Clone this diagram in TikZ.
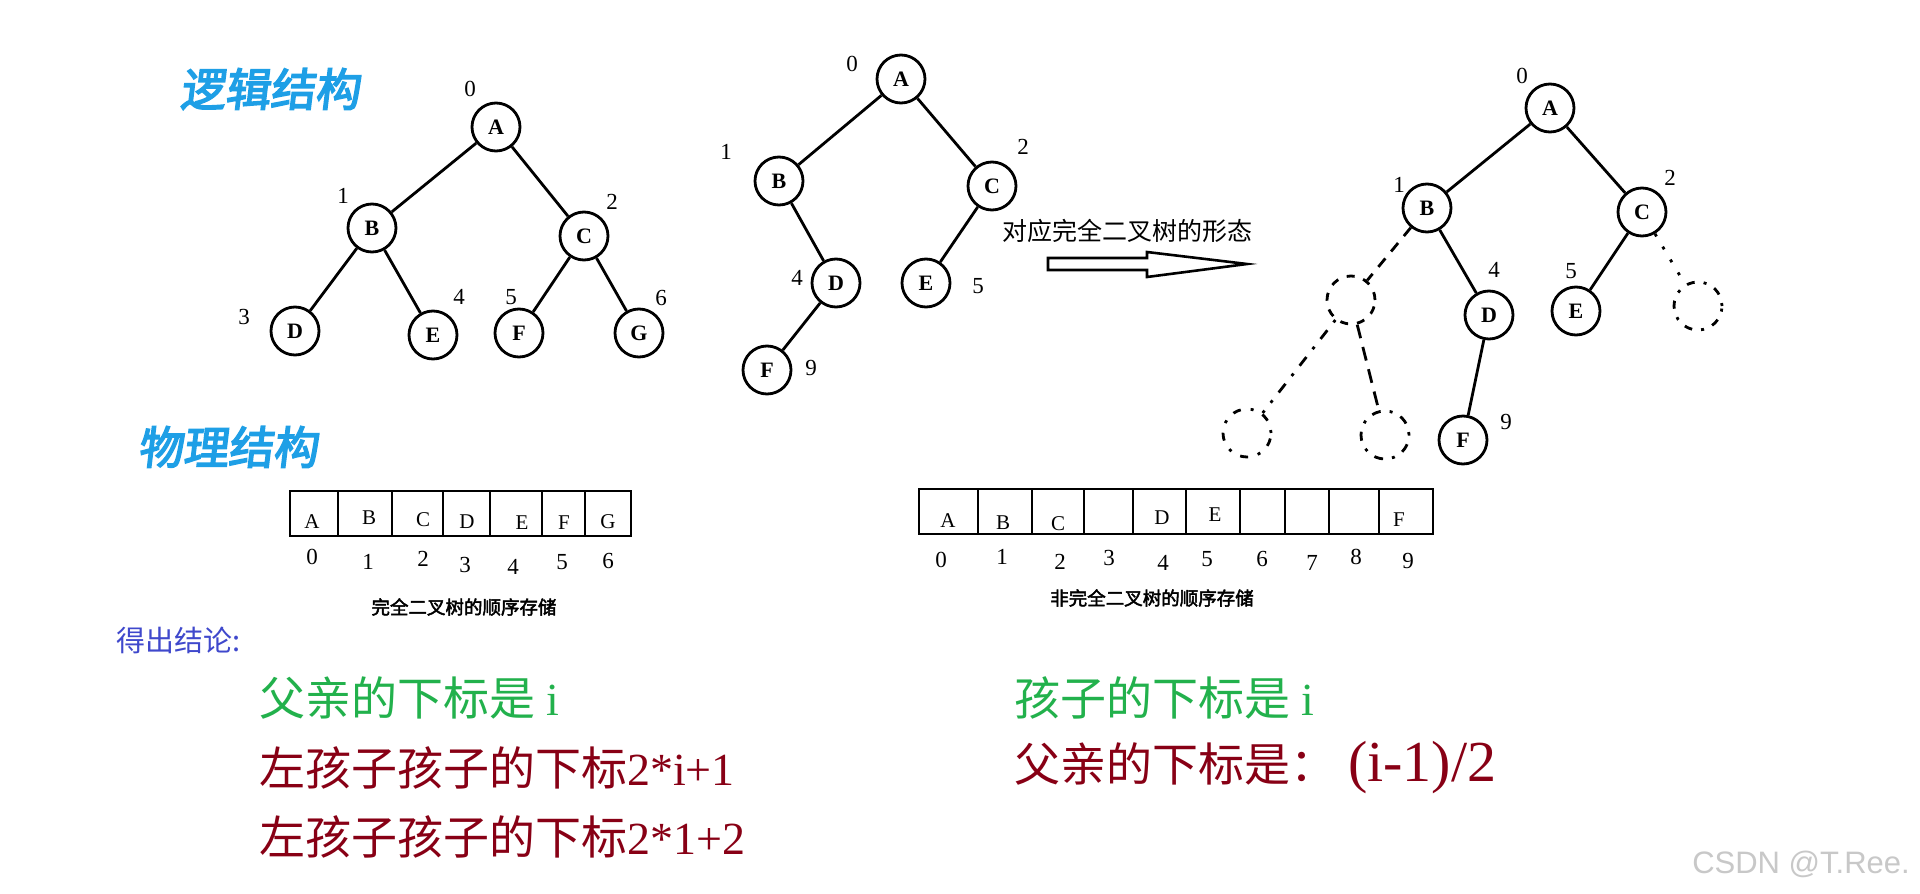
\documentclass[tikz,border=0pt]{standalone}
\usepackage{fontspec}
\setmainfont{Liberation Serif}
\newfontfamily\cjk{Noto Sans CJK SC}
\newfontfamily\cjkb[FakeBold=2.5]{Noto Sans CJK SC}
\newfontfamily\cjkt[FakeBold=3.5,FakeSlant=0.12]{Noto Sans CJK SC}
\newfontfamily\wmfont{Liberation Sans}
\definecolor{titleblue}{HTML}{1E9FE6}
\definecolor{concblue}{HTML}{3F48CC}
\definecolor{concgreen}{HTML}{22B14C}
\definecolor{concred}{HTML}{880015}
\definecolor{wmgray}{HTML}{C8C8C8}
\tikzset{
  tnode/.style={circle,draw,line width=2.8pt,minimum size=48pt,inner sep=0pt,font=\fontsize{22}{22}\selectfont\bfseries},
  ghost/.style={circle,draw,line width=2.8pt,minimum size=48pt,inner sep=0pt,dash pattern=on 8pt off 9pt},
  idx/.style={font=\fontsize{23}{23}\selectfont,inner sep=0pt},
  edge/.style={line width=2.8pt},
  cell/.style={font=\fontsize{21}{21}\selectfont,inner sep=0pt},
  cellnum/.style={font=\fontsize{23}{23}\selectfont,inner sep=0pt},
  arr/.style={line width=2.6pt},
  caption/.style={font=\cjkb\fontsize{18.5}{18.5}\selectfont,inner sep=0pt},
  bigtitle/.style={font=\cjkt\fontsize{45}{45}\selectfont,text=titleblue,inner sep=0pt},
  concl/.style={font=\fontsize{46}{46}\selectfont,inner sep=0pt,anchor=west}
}
\begin{document}
\begin{tikzpicture}[x=1pt,y=-1pt]
\useasboundingbox[fill=white] (0,0) rectangle (1920,894);

% titles
\node[bigtitle] (t1) at (270,89) {逻辑结构};
\node[bigtitle] (t2) at (228,447) {物理结构};

% tree 1
\node[tnode] (a1) at (496,127) {A};
\node[tnode] (b1) at (372,228) {B};
\node[tnode] (c1) at (584,236) {C};
\node[tnode] (d1) at (295,331) {D};
\node[tnode] (e1) at (433,335) {E};
\node[tnode] (f1) at (519,333) {F};
\node[tnode] (g1) at (639,333) {G};
\draw[edge] (a1) -- (b1); \draw[edge] (a1) -- (c1);
\draw[edge] (b1) -- (d1); \draw[edge] (b1) -- (e1);
\draw[edge] (c1) -- (f1); \draw[edge] (c1) -- (g1);
\node[idx] (n10) at (470,89) {0};
\node[idx] (n11) at (343,196) {1};
\node[idx] (n12) at (612,202) {2};
\node[idx] (n13) at (244,317) {3};
\node[idx] (n14) at (459,297) {4};
\node[idx] (n15) at (511,297) {5};
\node[idx] (n16) at (661,298) {6};

% tree 2
\node[tnode] (a2) at (901,79) {A};
\node[tnode] (b2) at (779,181) {B};
\node[tnode] (c2) at (992,186) {C};
\node[tnode] (d2) at (836,283) {D};
\node[tnode] (e2) at (926,283) {E};
\node[tnode] (f2) at (767,370) {F};
\draw[edge] (a2) -- (b2); \draw[edge] (a2) -- (c2);
\draw[edge] (b2) -- (d2); \draw[edge] (c2) -- (e2);
\draw[edge] (d2) -- (f2);
\node[idx] (n20) at (852,64) {0};
\node[idx] (n21) at (726,152) {1};
\node[idx] (n22) at (1023,147) {2};
\node[idx] (n24) at (797,278) {4};
\node[idx] (n25) at (978,286) {5};
\node[idx] (n29) at (811,368) {9};

% arrow
\node[font=\cjk\fontsize{25}{25}\selectfont,inner sep=0pt] (arrtxt) at (1127,231) {对应完全二叉树的形态};
\coordinate (arrtail) at (1048,264);
\coordinate (arrtip) at (1247,264);
\draw[arr,line join=miter] (arrtail) ++(0,-6) -- (1147,258) -- (1147,252) -- (arrtip) -- (1147,277) -- (1147,270) -- (1048,270) -- cycle;

% tree 3
\node[tnode] (a3) at (1550,108) {A};
\node[tnode] (b3) at (1427,208) {B};
\node[tnode] (c3) at (1642,212) {C};
\node[tnode] (d3) at (1489,315) {D};
\node[tnode] (e3) at (1576,311) {E};
\node[tnode] (f3) at (1463,440) {F};
\node[ghost] (g31) at (1351,300) {};
\node[ghost,dash pattern=on 3pt off 9pt on 8pt off 9pt] (g32) at (1698,306) {};
\node[ghost,dash pattern=on 3pt off 10pt on 8pt off 10pt] (g33) at (1247,433) {};
\node[ghost,dash pattern=on 3pt off 9pt on 9pt off 9pt] (g34) at (1385,435) {};
\draw[edge] (a3) -- (b3); \draw[edge] (a3) -- (c3);
\draw[edge] (b3) -- (d3); \draw[edge] (c3) -- (e3);
\draw[edge] (d3) -- (f3);
\draw[edge,dash pattern=on 11pt off 9pt] (b3) -- (g31);
\draw[edge,dash pattern=on 3pt off 10pt on 11pt off 10pt] (g31) -- (g33);
\draw[edge,dash pattern=on 14pt off 9pt] (g31) -- (g34);
\draw[edge,dash pattern=on 3pt off 12pt] (c3) -- (g32);
\node[idx] (n30) at (1522,76) {0};
\node[idx] (n31) at (1399,185) {1};
\node[idx] (n32) at (1670,178) {2};
\node[idx] (n34) at (1494,270) {4};
\node[idx] (n35) at (1571,271) {5};
\node[idx] (n39) at (1506,422) {9};

% array 1
\draw[line width=2.8pt] (290,491) rectangle (631,536);
\foreach \x in {338,392,443,490,542,585} \draw[line width=2.8pt] (\x,491) -- (\x,536);
\foreach \l/\x/\y in {A/312/522,B/369/518,C/423/520,D/467/522,E/522/523,F/564/523,G/608/522}
  \node[cell] (p\l) at (\x,\y) {\l};
\foreach \n/\x/\y in {0/312/557,1/368/562,2/423/559,3/465/565,4/513/567,5/562/562,6/608/561}
  \node[cellnum] (q\n) at (\x,\y) {\n};
\node[caption] (cap1) at (464,607) {完全二叉树的顺序存储};

% array 2
\draw[line width=2.8pt] (919,489) rectangle (1433,534);
\foreach \x in {978,1032,1084,1133,1186,1240,1285,1329,1379} \draw[line width=2.8pt] (\x,489) -- (\x,534);
\foreach \l/\x/\y in {A/948/521,B/1003/523,C/1058/524,D/1162/518,E/1215/515,F/1399/520}
  \node[cell] (r\l) at (\x,\y) {\l};
\foreach \n/\x/\y in {0/941/560,1/1002/557,2/1060/562,3/1109/558,4/1163/563,5/1207/559,6/1262/559,7/1312/563,8/1356/557,9/1408/561}
  \node[cellnum] (s\n) at (\x,\y) {\n};
\node[caption] (cap2) at (1152,598) {非完全二叉树的顺序存储};

% conclusions
\node[font=\cjk\fontsize{29}{29}\selectfont,text=concblue,inner sep=0pt,anchor=west] (concl) at (116,640) {得出结论:};
\node[concl,text=concgreen] (l1) at (259,698) {{\cjk 父亲的下标是} i};
\node[concl,text=concred] (l2) at (259,768) {{\cjk 左孩子孩子的下标}2*i+1};
\node[concl,text=concred] (l3) at (259,837) {{\cjk 左孩子孩子的下标}2*1+2};
\node[concl,text=concgreen] (r1) at (1014,698) {{\cjk 孩子的下标是} i};
\node[concl,text=concred] (r2) at (1014,768) {{\cjk 父亲的下标是：}\hspace{12pt}{\fontsize{58}{58}\selectfont (i-1)/2}};
\node[font=\wmfont\fontsize{31}{31}\selectfont,text=wmgray,inner sep=0pt,anchor=east] (wm) at (1910,864) {CSDN @T.Ree.};
\end{tikzpicture}
\end{document}
